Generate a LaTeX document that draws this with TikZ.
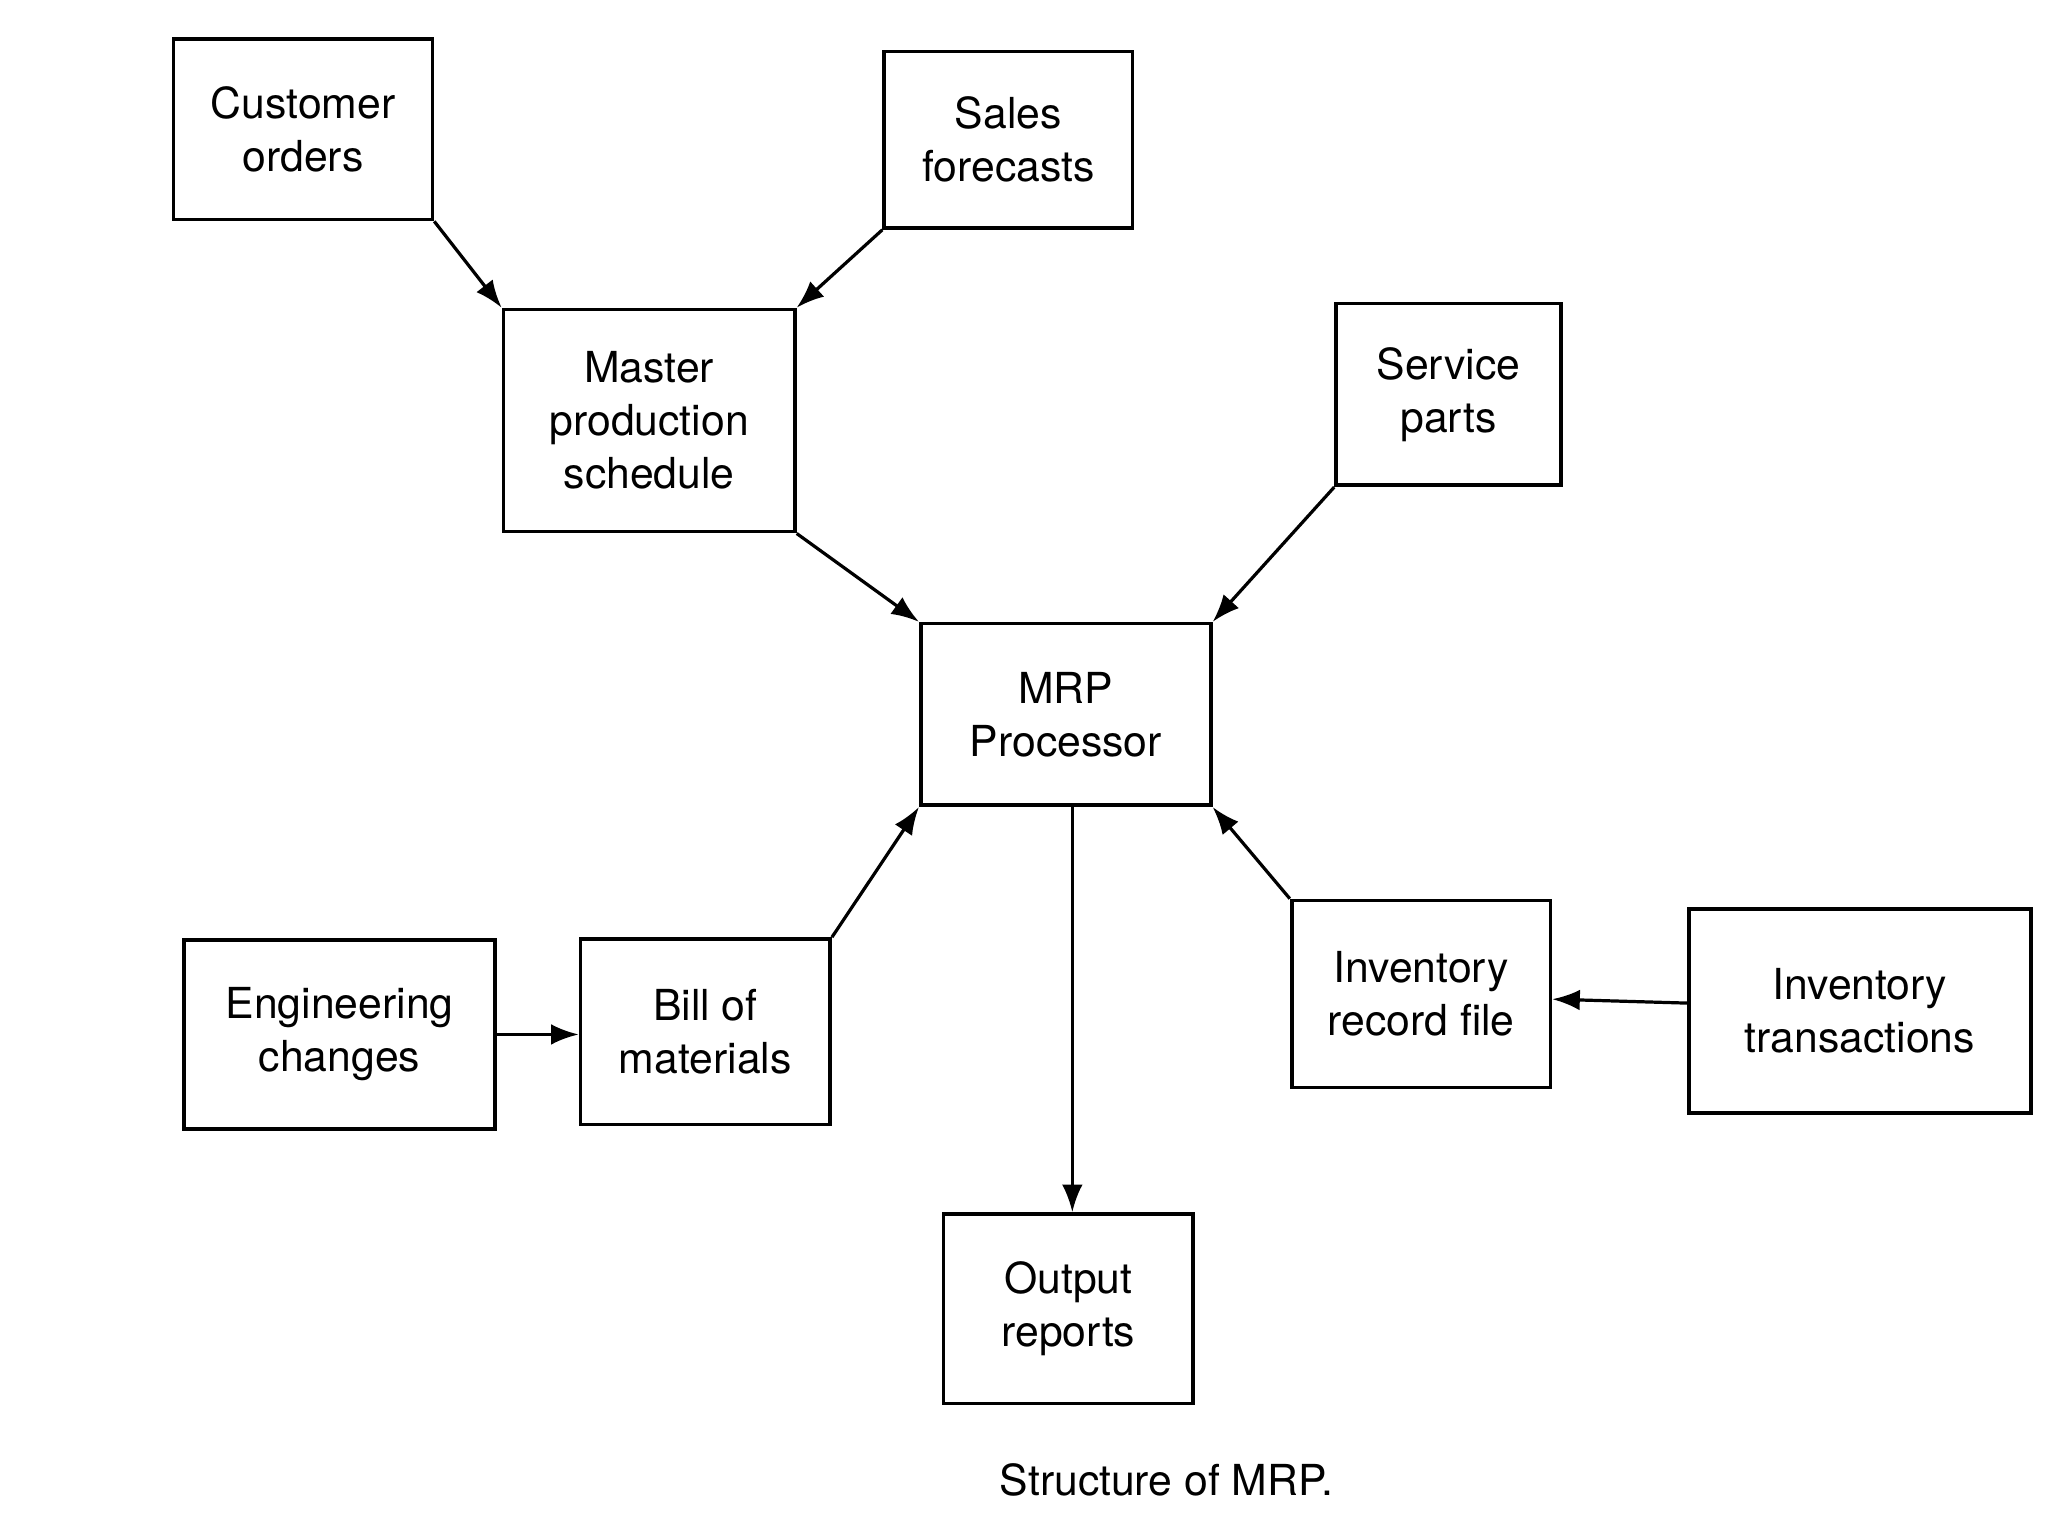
\documentclass[tikz,border=0pt]{standalone}
\usepackage{fontspec}
\setmainfont{TeX Gyre Heros}
\usetikzlibrary{arrows.meta}
\tikzset{
  block/.style={draw, line width=0.8pt, align=center, inner sep=2pt,
    font=\fontsize{9.3}{11.5}\selectfont},
  flow/.style={line width=0.7pt, -{Latex[length=6pt,width=4.5pt]}}
}
\begin{document}
\begin{tikzpicture}[x=0.01cm, y=-0.01cm]
  % page frame
  \useasboundingbox (0,0) rectangle (1568,1176);

  % Inputs on top
  \node[block, minimum width=1.98cm, minimum height=1.38cm] (cust) at (232,99) {Customer\\orders};
  \node[block, minimum width=1.90cm, minimum height=1.35cm] (sales) at (772,107) {Sales\\forecasts};
  \node[block, minimum width=2.23cm, minimum height=1.70cm] (mps) at (497,322) {Master\\production\\schedule};
  \node[block, minimum width=1.72cm, minimum height=1.39cm] (service) at (1109,302) {Service\\parts};

  % Processor
  \node[block, minimum width=2.22cm, minimum height=1.39cm] (mrp) at (816,547) {MRP\\Processor};

  % Inputs below
  \node[block, minimum width=2.38cm, minimum height=1.45cm] (eng) at (260,792) {Engineering\\changes};
  \node[block, minimum width=1.91cm, minimum height=1.42cm] (bom) at (540,790) {Bill of\\materials};
  \node[block, minimum width=1.98cm, minimum height=1.43cm] (irf) at (1088,761) {Inventory\\record file};
  \node[block, minimum width=2.62cm, minimum height=1.56cm] (itrans) at (1424,774) {Inventory\\transactions};

  % Output
  \node[block, minimum width=1.91cm, minimum height=1.45cm] (out) at (818,1002) {Output\\reports};

  % Caption
  \node[font=\fontsize{9.3}{11.5}\selectfont] (caption) at (893,1133) {Structure of MRP.};

  % Connectors
  \draw[flow] (cust.south east) -- (mps.north west);
  \draw[flow] (sales.south west) -- (mps.north east);
  \draw[flow] (mps.south east) -- (mrp.north west);
  \draw[flow] (service.south west) -- (mrp.north east);
  \draw[flow] (bom.north east) -- (mrp.south west);
  \draw[flow] (irf.north west) -- (mrp.south east);
  \draw[flow] (eng.east) -- (eng.east -| bom.west);
  \draw[flow] ([yshift=0.06cm]itrans.west) -- ([yshift=-0.04cm]irf.east);
  \draw[flow] ([xshift=0.05cm]mrp.south) -- ([xshift=0.05cm]mrp.south |- out.north);
\end{tikzpicture}
\end{document}
